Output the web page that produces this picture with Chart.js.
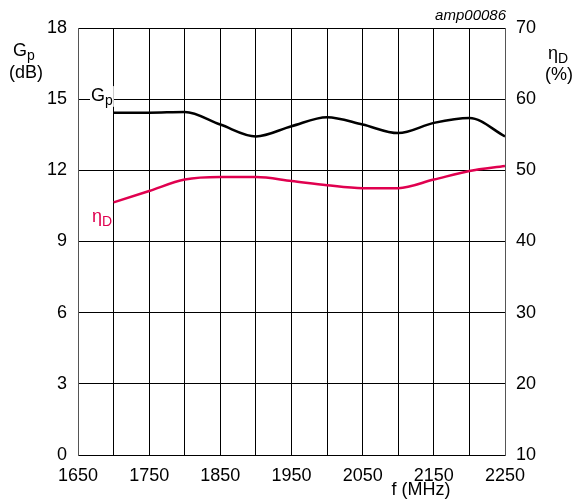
<!DOCTYPE html>
<html>
<head>
<meta charset="utf-8">
<script src="https://cdn.jsdelivr.net/npm/chart.js@4"></script>
<style>
  html, body { margin: 0; padding: 0; background: #fff; }
  #wrap { width: 575px; height: 502px; }
</style>
</head>
<body>
<div id="wrap"><canvas id="gainChart"></canvas></div>
<script>
// frequency points (MHz)
let freqs = [1700, 1750, 1800, 1850, 1900, 1950, 2000, 2050, 2100, 2150, 2200, 2250];
// power gain Gp (dB), left axis
let gainDb = [14.43, 14.43, 14.46, 13.93, 13.43, 13.86, 14.24, 13.93, 13.57, 14.0, 14.21, 13.43];
// drain efficiency (%), right axis
let drainEff = [45.5, 47.1, 48.7, 49.05, 49.05, 48.5, 47.9, 47.5, 47.5, 48.7, 49.9, 50.6];

let leftTicks = [0, 3, 6, 9, 12, 15, 18];
let rightTicks = [10, 20, 30, 40, 50, 60, 70];

let colorGain = "#000000";
let colorEff = "#e0004f";
let fontFam = "'Liberation Sans', Arial, sans-serif";

function pts(xs, ys) {
  return xs.map(function (x, i) { return { x: x, y: ys[i] }; });
}

// "G" + subscript "p" style labels
function subText(ctx, main, sub, x, y, size, color, bg) {
  ctx.save();
  ctx.font = size + "px " + fontFam;
  let w1 = ctx.measureText(main).width;
  ctx.font = Math.round(size * 0.8) + "px " + fontFam;
  let w2 = ctx.measureText(sub).width;
  if (bg) {
    ctx.fillStyle = "#fff";
    ctx.fillRect(x - 1, y - size * 0.55, w1 + w2 + 2, size * 1.15);
  }
  ctx.fillStyle = color;
  ctx.textBaseline = "middle";
  ctx.textAlign = "left";
  ctx.font = size + "px " + fontFam;
  ctx.fillText(main, x, y);
  ctx.font = Math.round(size * 0.8) + "px " + fontFam;
  ctx.fillText(sub, x + w1, y + size * 0.3);
  ctx.restore();
}

const labelsPlugin = {
  id: "labels",
  afterDraw(chart) {
    const ctx = chart.ctx;
    subText(ctx, "G", "p", 13, 51, 18, "#000");
    ctx.save();
    ctx.font = "18px " + fontFam;
    ctx.fillStyle = "#000";
    ctx.textAlign = "center";
    ctx.textBaseline = "middle";
    ctx.fillText("(dB)", 26, 73);
    ctx.fillText("(%)", 559, 75);
    ctx.fillText("f (MHz)", 421, 490);
    ctx.font = "italic 15px " + fontFam;
    ctx.textAlign = "right";
    ctx.fillText("amp00086", 506, 16);
    ctx.restore();
    subText(ctx, "η", "D", 548, 54, 18, "#000");
    // curve labels
    subText(ctx, "G", "p", 91, 96, 18, colorGain, true);
    subText(ctx, "η", "D", 92, 217, 18, colorEff);
  }
};

new Chart(document.getElementById("gainChart"), {
  type: "scatter",
  data: {
    datasets: [
      {
        label: "Gp",
        data: pts(freqs, gainDb),
        yAxisID: "y",
        showLine: true,
        borderColor: colorGain,
        borderWidth: 2.5,
        pointRadius: 0,
        cubicInterpolationMode: "monotone"
      },
      {
        label: "ηD",
        data: pts(freqs, drainEff),
        yAxisID: "y1",
        showLine: true,
        borderColor: colorEff,
        borderWidth: 2.5,
        pointRadius: 0,
        cubicInterpolationMode: "monotone"
      }
    ]
  },
  options: {
    responsive: true,
    maintainAspectRatio: false,
    animation: false,
    layout: { padding: { top: 28, left: 0, right: 0, bottom: 0 } },
    plugins: { legend: { display: false }, tooltip: { enabled: false } },
    scales: {
      x: {
        type: "linear",
        min: 1650,
        max: 2250,
        afterFit: function (s) { s.height = 47; },
        afterBuildTicks: function (s) {
          s.ticks = [];
          for (let v = 1650; v <= 2250; v += 50) s.ticks.push({ value: v });
        },
        grid: { color: "#000", lineWidth: 1, drawTicks: false },
        border: { color: "#000", width: 1 },
        ticks: {
          autoSkip: false,
          maxRotation: 0,
          padding: 10,
          color: "#000",
          font: { family: fontFam, size: 18 },
          callback: function (v) { return (v - 1650) % 100 === 0 ? String(v) : ""; }
        }
      },
      y: {
        position: "left",
        min: 0,
        max: 18,
        afterFit: function (s) { s.width = 78; },
        afterBuildTicks: function (s) { s.ticks = leftTicks.map(function (v) { return { value: v }; }); },
        grid: { color: "#000", lineWidth: 1, drawTicks: false },
        border: { color: "#555", width: 1 },
        ticks: { padding: 11, color: "#000", font: { family: fontFam, size: 18 } }
      },
      y1: {
        position: "right",
        min: 10,
        max: 70,
        afterFit: function (s) { s.width = 70; },
        afterBuildTicks: function (s) { s.ticks = rightTicks.map(function (v) { return { value: v }; }); },
        grid: { drawOnChartArea: false, drawTicks: false },
        border: { color: "#555", width: 1 },
        ticks: { padding: 11, color: "#000", font: { family: fontFam, size: 18 } }
      }
    }
  },
  plugins: [labelsPlugin]
});
</script>
</body>
</html>
